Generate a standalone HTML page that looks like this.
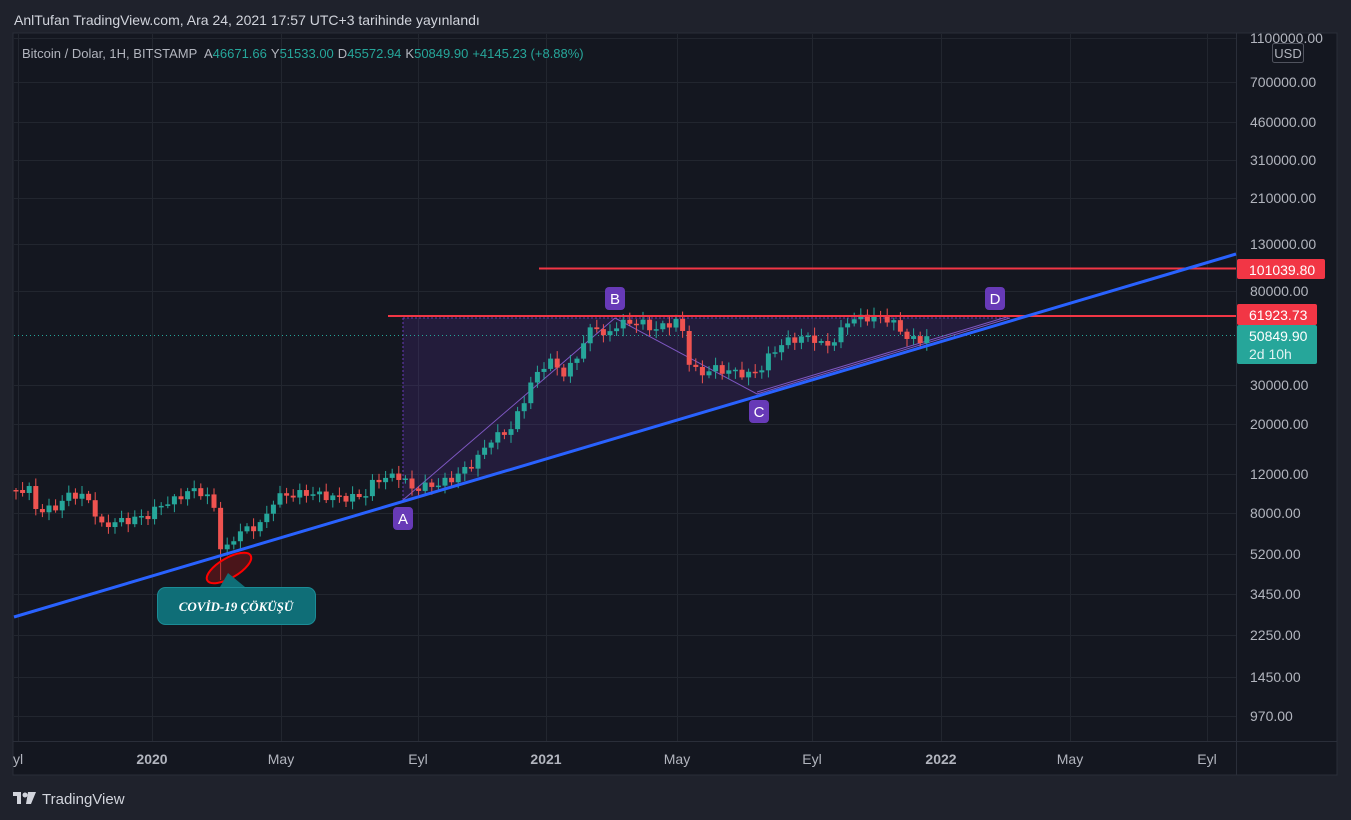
<!DOCTYPE html>
<html><head><meta charset="utf-8"><style>
body{margin:0;width:1351px;height:820px;background:#1f222c;overflow:hidden;font-family:"Liberation Sans",sans-serif;}
</style></head><body>
<svg width="1351" height="820" xmlns="http://www.w3.org/2000/svg" style="position:absolute;left:0;top:0" font-family="Liberation Sans, sans-serif">
<rect x="0" y="0" width="1351" height="820" fill="#1f222c"/>
<text x="14" y="25" fill="#d1d4dc" font-size="14">AnlTufan TradingView.com, Ara 24, 2021 17:57 UTC+3 tarihinde yayınlandı</text>
<rect x="13" y="33" width="1324" height="742" fill="#141720" stroke="#2a2e39"/>
<g id="grid" stroke="#22262f" stroke-width="1"></g>
<line x1="1236.5" y1="33" x2="1236.5" y2="775" stroke="#2a2e39"/>
<line x1="13" y1="741.5" x2="1337" y2="741.5" stroke="#2a2e39"/>
<polygon points="403,318 1010,318 403,502" fill="rgba(103,58,183,0.18)"/>
<line x1="403" y1="318" x2="1010" y2="318" stroke="#673ab7" stroke-dasharray="2,2"/>
<line x1="403" y1="318" x2="403" y2="502" stroke="#673ab7" stroke-dasharray="2,2"/>
<polyline points="403,500 615,318 757,394 1010,318" fill="none" stroke="#7e57c2" stroke-width="1"/>
<line x1="757" y1="392" x2="1010" y2="316" stroke="#7e57c2" stroke-width="1"/>
<line x1="14" y1="335.5" x2="1236" y2="335.5" stroke="#26a69a" stroke-dasharray="1,3"/>
<g id="candles"></g>
<line x1="539" y1="268.5" x2="1236" y2="268.5" stroke="#f23645" stroke-width="2"/>
<line x1="388" y1="316" x2="1236" y2="316" stroke="#f23645" stroke-width="2"/>
<line x1="14" y1="617" x2="1236" y2="254" stroke="#2962ff" stroke-width="3"/>
<ellipse cx="229" cy="568" rx="25" ry="10" transform="rotate(-30 229 568)" fill="rgba(140,20,20,0.45)" stroke="#ff0000" stroke-width="2"/>
<polygon points="220,587 228,573 245,587" fill="#0f6e77"/>
<rect x="157.5" y="587.5" width="158" height="37" rx="8" fill="#0f6e77" stroke="#1b8c96"/>
<text x="236" y="611" fill="#fff" font-size="13" font-weight="bold" font-style="italic" font-family="Liberation Serif, serif" text-anchor="middle">COVİD-19 ÇÖKÜŞÜ</text>
<g font-size="15" fill="#fff" text-anchor="middle">
<rect x="393" y="507" width="20" height="23" rx="4" fill="#673ab7"/><text x="403" y="524">A</text>
<rect x="605" y="287" width="20" height="23" rx="4" fill="#673ab7"/><text x="615" y="304">B</text>
<rect x="749" y="400" width="20" height="23" rx="4" fill="#673ab7"/><text x="759" y="417">C</text>
<rect x="985" y="287" width="20" height="23" rx="4" fill="#673ab7"/><text x="995" y="304">D</text>
</g>
<text x="22" y="58" font-size="13" fill="#b2b5be">Bitcoin / Dolar, 1H, BITSTAMP <tspan dx="4">A</tspan><tspan fill="#26a69a">46671.66</tspan><tspan dx="4">Y</tspan><tspan fill="#26a69a">51533.00</tspan><tspan dx="4">D</tspan><tspan fill="#26a69a">45572.94</tspan><tspan dx="4">K</tspan><tspan fill="#26a69a">50849.90</tspan><tspan dx="4" fill="#26a69a">+4145.23 (+8.88%)</tspan></text>
<g id="ylab" font-size="14" fill="#b2b5be"></g>
<rect x="1272.5" y="43.5" width="31" height="19" rx="2" fill="#141720" stroke="#50535e"/>
<text x="1288" y="58" font-size="13" fill="#b2b5be" text-anchor="middle">USD</text>
<rect x="1237" y="259" width="88" height="20" rx="2" fill="#f23645"/><text x="1249" y="275" font-size="14" fill="#fff">101039.80</text>
<rect x="1237" y="304" width="80" height="21" rx="2" fill="#f23645"/><text x="1249" y="320" font-size="14" fill="#fff">61923.73</text>
<rect x="1237" y="325" width="80" height="39" rx="2" fill="#26a69a"/><text x="1249" y="341" font-size="14" fill="#fff">50849.90</text><text x="1249" y="359" font-size="14" fill="#e0f2f1">2d 10h</text>
<g id="xlab" font-size="14" fill="#b2b5be" text-anchor="middle"></g>
<g transform="translate(13,791)" fill="#d1d4dc"><rect x="0" y="1" width="8" height="4"/><rect x="4" y="1" width="4" height="12"/><circle cx="12" cy="4" r="2.5"/><polygon points="15,1 23,1 18,13 13,13"/></g>
<text x="42" y="804" font-size="15" fill="#d1d4dc">TradingView</text>
</svg>
<script>
(function(){
var NS="http://www.w3.org/2000/svg";
function el(p,t,a){var e=document.createElementNS(NS,t);for(var k in a)e.setAttribute(k,a[k]);p.appendChild(e);return e;}
var Y=function(p){return 38+96.4*(Math.log(1100000)-Math.log(p));};
var labs=[[1100000,"1100000.00"],[700000,"700000.00"],[460000,"460000.00"],[310000,"310000.00"],[210000,"210000.00"],[130000,"130000.00"],[80000,"80000.00"],[30000,"30000.00"],[20000,"20000.00"],[12000,"12000.00"],[8000,"8000.00"],[5200,"5200.00"],[3450,"3450.00"],[2250,"2250.00"],[1450,"1450.00"],[970,"970.00"]];
var g=document.getElementById("grid"),yl=document.getElementById("ylab");
labs.forEach(function(l){var y=Math.round(Y(l[0]));el(g,"line",{x1:14,x2:1236,y1:y+.5,y2:y+.5});var t=el(yl,"text",{x:1250,y:y+5});t.textContent=l[1];});
var xs=[[18,"yl",0],[152,"2020",1],[281,"May",0],[418,"Eyl",0],[546,"2021",1],[677,"May",0],[812,"Eyl",0],[941,"2022",1],[1070,"May",0],[1207,"Eyl",0]];
var xl=document.getElementById("xlab");
xs.forEach(function(a){el(g,"line",{x1:a[0]+.5,x2:a[0]+.5,y1:34,y2:741});var t=el(xl,"text",{x:a[0],y:764});if(a[2])t.setAttribute("font-weight","bold");t.textContent=a[1];});
var kp=[[16,490],[30,490],[38,513],[60,505],[70,493],[90,500],[100,527],[115,522],[130,520],[150,515],[160,505],[175,500],[190,490],[205,493],[215,510],[222,555],[230,545],[240,530],[250,530],[265,520],[275,497],[290,495],[310,493],[330,497],[350,498],[365,495],[375,480],[385,478],[395,476],[403,476],[410,490],[420,487],[435,485],[450,480],[460,473],[475,462],[490,440],[500,435],[510,430],[520,410],[530,385],[540,370],[548,360],[555,365],[565,375],[575,360],[585,340],[595,322],[605,340],[615,325],[625,323],[640,322],[655,330],[665,325],[680,320],[690,365],[700,375],[712,368],[720,370],[735,372],[750,375],[760,370],[770,355],[780,345],[790,340],[800,338],[812,337],[822,345],[830,345],[840,333],[848,320],[860,318],[875,317],[885,318],[890,320],[900,330],[910,340],[920,340],[928,336]];
function at(x){for(var i=1;i<kp.length;i++){if(x<=kp[i][0]){var a=kp[i-1],b=kp[i];return a[1]+(b[1]-a[1])*(x-a[0])/(b[0]-a[0]);}}return kp[kp.length-1][1];}
var c=document.getElementById("candles");var prev=at(16);
for(var x=16,i=0;x<=929;x+=6.6,i++){var cl=at(x)+Math.sin(i*2.3)*4;if(x>=927)cl=336;var o=prev;var up=cl<o;var col=up?"#26a69a":"#ef5350";
var tp=Math.min(o,cl),bt=Math.max(o,cl);if(bt-tp<1.5)bt=tp+1.5;
var wt=tp-2-Math.abs(Math.sin(i*1.7))*6,wb=bt+2+Math.abs(Math.cos(i*1.3))*6;if(Math.abs(x-222)<4)wb=580;
el(c,"line",{x1:x,x2:x,y1:wt,y2:wb,stroke:col,"stroke-width":1});el(c,"rect",{x:x-2.5,y:tp,width:5,height:bt-tp,fill:col});prev=cl;}
})();
</script>
</body></html>
